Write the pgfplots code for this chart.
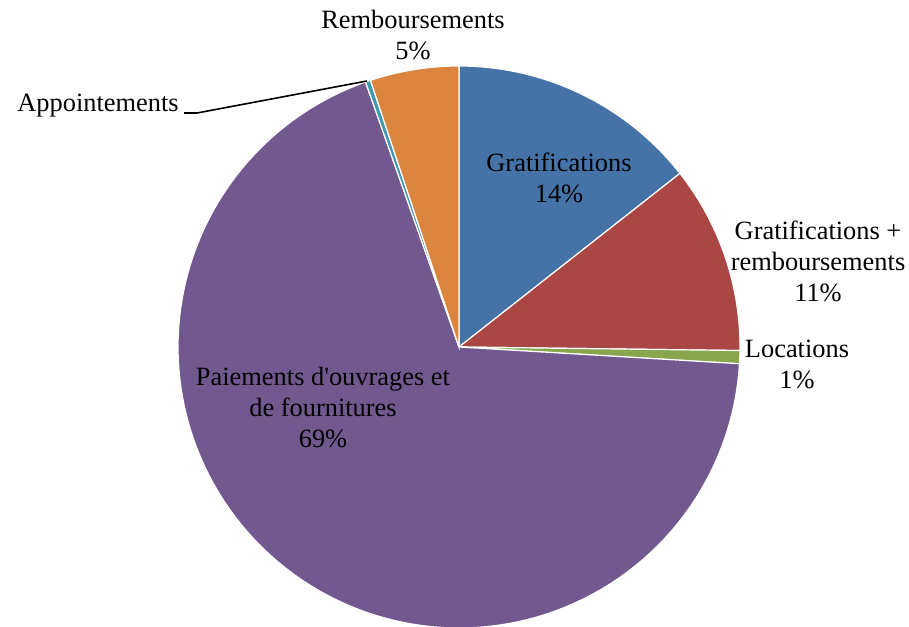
\documentclass[border=0pt]{standalone}
\usepackage{pgfplots}
\pgfplotsset{compat=1.18}
\usepackage{fontspec}
\setmainfont{Liberation Serif}
\definecolor{cA}{HTML}{4572A7}
\definecolor{cB}{HTML}{AA4643}
\definecolor{cC}{HTML}{89A54E}
\definecolor{cD}{HTML}{71588F}
\definecolor{cE}{HTML}{4198AF}
\definecolor{cF}{HTML}{DB843D}
% values in percent
\def\vA{14.4}  % Gratifications
\def\vB{10.8}  % Gratifications + remboursements
\def\vC{0.75}  % Locations
\def\vD{68.65} % Paiements d'ouvrages et de fournitures
\def\vE{0.3}   % Appointements
\def\vF{5.1}   % Remboursements
\pgfmathsetmacro\aA{90}
\pgfmathsetmacro\aB{\aA-3.6*\vA}
\pgfmathsetmacro\aC{\aB-3.6*\vB}
\pgfmathsetmacro\aD{\aC-3.6*\vC}
\pgfmathsetmacro\aE{\aD-3.6*\vD}
\pgfmathsetmacro\aF{\aE-3.6*\vE}
\pgfmathsetmacro\aG{\aF-3.6*\vF}
\def\cx{459}\def\cy{279}\def\rr{281}
\begin{document}
\fontsize{13.2}{15.5}\selectfont
\begin{tikzpicture}
\begin{axis}[x=0.5pt,y=0.5pt,xmin=0,xmax=909,ymin=0,ymax=626,
  hide axis,clip=false,scale only axis]
\def\slice#1#2#3{%
  \edef\temp{\noexpand\addplot[fill=#1,draw=white,line width=0.6pt,domain=#2:#3,samples=120,variable=\noexpand\t]
   ({\cx+\rr*cos(\noexpand\t)},{\cy+\rr*sin(\noexpand\t)}) -- (axis cs:\cx,\cy) -- cycle;}\temp}
\slice{cA}{\aB}{\aA}
\slice{cB}{\aC}{\aB}
\slice{cC}{\aD}{\aC}
\slice{cD}{\aE}{\aD}
\slice{cE}{\aF}{\aE}
\slice{cF}{\aG}{\aF}
\node[align=center] at (axis cs:559,448.5) {Gratifications\\14\%};
\node[align=center] at (axis cs:818,365) {Gratifications +\\remboursements\\11\%};
\node[align=center] at (axis cs:797,261.5) {Locations\\1\%};
\node[align=center] at (axis cs:323,218) {Paiements d\textquotesingle ouvrages et\\de fournitures\\69\%};
\node[align=center] at (axis cs:413,590.5) {Remboursements\\5\%};
\node at (axis cs:98,520) {Appointements};
\draw[black,line width=0.8pt] (axis cs:184,513) -- (axis cs:197,513) -- (axis cs:367,545);
\end{axis}
\pgfresetboundingbox
\path (0,0) rectangle (454.5pt,313pt);
\end{tikzpicture}
\end{document}
